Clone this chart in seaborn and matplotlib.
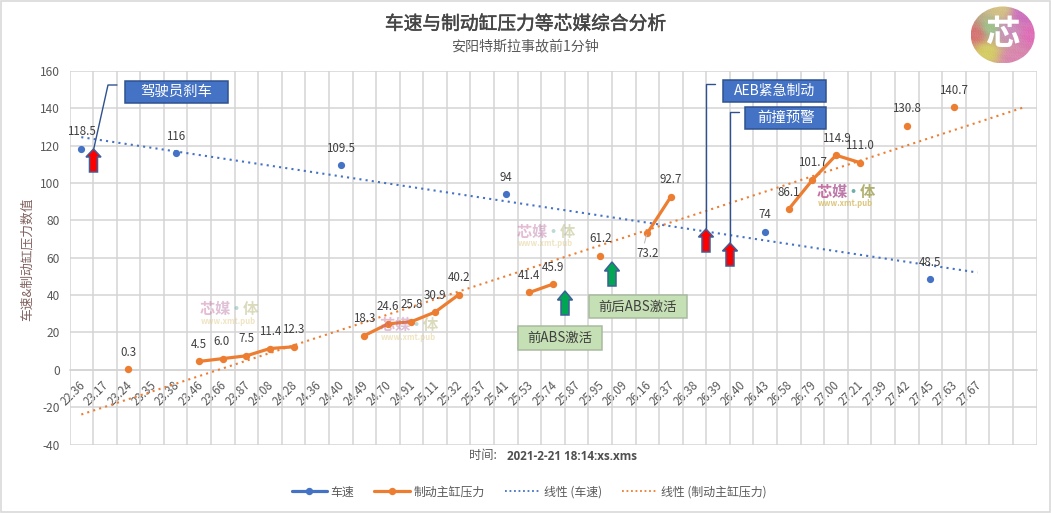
import numpy as np
import matplotlib
matplotlib.use("Agg")
import matplotlib.pyplot as plt
import matplotlib.patheffects as pe
from matplotlib.transforms import offset_copy
import seaborn as sns
from matplotlib.lines import Line2D
from matplotlib.patches import Rectangle, Polygon, Ellipse

time_labels = ["22.36","23.17","23.24","23.35","23.38","23.46","23.66","23.87","24.08","24.28",
               "24.36","24.40","24.49","24.70","24.91","25.11","25.32","25.37","25.41","25.53",
               "25.74","25.87","25.95","26.09","26.16","26.37","26.38","26.39","26.40","26.43",
               "26.58","26.79","27.00","27.21","27.39","27.42","27.45","27.63","27.67","",""]
speed_times = ["22.36","23.38","24.40","25.41","26.43","27.45"]
speed_values = [118.5,116,109.5,94,74,48.5]
speed_text = ["118.5","116","109.5","94","74","48.5"]
pressure_times = ["23.24","23.46","23.66","23.87","24.08","24.28","24.49","24.70","24.91","25.11","25.32",
                  "25.53","25.74","25.95","26.16","26.37","26.58","26.79","27.00","27.21","27.42","27.63"]
pressure_values = [0.3,4.5,6.0,7.5,11.4,12.3,18.3,24.6,25.8,30.9,40.2,41.4,45.9,61.2,73.2,92.7,
                   86.1,101.7,114.9,111.0,130.8,140.7]
pressure_text = ["0.3","4.5","6.0","7.5","11.4","12.3","18.3","24.6","25.8","30.9","40.2","41.4","45.9",
                 "61.2","73.2","92.7","86.1","101.7","114.9","111.0","130.8","140.7"]
BLUE, ORANGE = "#4472C4", "#ED7D31"
W, H = 1051, 513

sns.set_theme(style="white")
plt.rcParams["font.family"] = ["Noto Sans CJK SC", "DejaVu Sans"]
plt.rcParams["axes.unicode_minus"] = False

fig = plt.figure(figsize=(W/100, H/100), dpi=100, facecolor="white")
ax = fig.add_axes([69.5/W, 1-444.5/H, (1036.5-69.5)/W, (444.5-71)/H])
ax.spines["bottom"].set_position(("data", 0))

pos = {t: i for i, t in enumerate(time_labels) if t}
sx = np.array([pos[t] for t in speed_times], float)
px_ = np.array([pos[t] for t in pressure_times], float)
sy = np.array(speed_values)
py = np.array(pressure_values)

# linear trends
xt1 = np.arange(0, 39)
xt2 = np.arange(0, 41)
sns.lineplot(x=xt1, y=np.polyval(np.polyfit(sx, sy, 1), xt1), ax=ax, color=BLUE, lw=1.5,
             linestyle=(0, (1, 2)), zorder=3)
sns.lineplot(x=xt2, y=np.polyval(np.polyfit(px_, py, 1), xt2), ax=ax, color=ORANGE, lw=1.5,
             linestyle=(0, (1, 2)), zorder=3)

# series: consecutive categories are joined
sns.scatterplot(x=sx, y=sy, ax=ax, color=BLUE, s=27, linewidth=0, zorder=4)
splits = np.where(np.diff(px_) > 1)[0] + 1
for rx, ry in zip(np.split(px_, splits), np.split(py, splits)):
    sns.lineplot(x=rx, y=ry, ax=ax, color=ORANGE, lw=2.3, marker="o", markersize=5.3,
                 markeredgewidth=0, zorder=4)

ax.set_xlim(-0.5, 40.5)
ax.set_ylim(-40, 160)
ax.set_yticks(np.arange(-40, 161, 20))
ax.set_xticks(np.arange(41))
ax.set_xticklabels(time_labels, rotation=45, ha="right", va="center", rotation_mode="anchor",
                   fontsize=8.3, color="#595959")
ax.set_xticks(np.arange(-0.5, 41), minor=True)
ax.tick_params(axis="x", which="both", length=0, pad=9.5)
ax.tick_params(axis="y", length=0, pad=7, labelsize=8.6, labelcolor="#595959")
for lab in ax.get_xticklabels():
    lab.set_transform(offset_copy(lab.get_transform(), fig, x=2, y=0, units="dots"))
ax.grid(False)
ax.grid(True, axis="y", which="major", color="#D4D4D4", lw=1.1)
ax.grid(True, axis="x", which="minor", color="#D4D4D4", lw=1.1)
ax.set_axisbelow(True)
for s in ax.spines.values():
    s.set_color("#D4D4D4")
    s.set_linewidth(1.1)
ax.spines["top"].set_visible(False)
ax.spines["left"].set_visible(False)
ax.spines["right"].set_visible(False)
ax.set_xlabel("")
ax.set_ylabel("")

# data labels
pt = 0.72
for x, y, t in zip(sx, sy, speed_text):
    ax.annotate(t, (x, y), xytext=(0, 17*pt), textcoords="offset points", ha="center", va="center",
                fontsize=8.3, color="#404040", zorder=6)
for x, y, t in zip(px_, py, pressure_text):
    off = -20 if t == "73.2" else 17
    ax.annotate(t, (x, y), xytext=(-1*pt if t == "6.0" else 0, off*pt), textcoords="offset points",
                ha="center", va="center", fontsize=8.3, color="#404040", zorder=6)

# overlay in reference pixels
ov = fig.add_axes([0, 0, 1, 1], zorder=10)
ov.set_xlim(0, W); ov.set_ylim(H, 0); ov.axis("off"); ov.patch.set_alpha(0)
ov.add_patch(Rectangle((1, 1), W-2, H-2, fill=False, ec="#D9D9D9", lw=1.2))

ov.text(525.5, 24, "车速与制动缸压力等芯媒综合分析", ha="center", va="center", fontsize=13.5, color="#454545",
        path_effects=[pe.withStroke(linewidth=0.35, foreground="#454545")])
ov.text(525, 46, "安阳特斯拉事故前1分钟", ha="center", va="center", fontsize=10.1, color="#595959")
ov.text(27, 259, "车速&制动缸压力数值", rotation=90, ha="center", va="center", fontsize=9.2, color="#80625f")
ov.text(469, 456, "时间:", ha="left", va="center", fontsize=8.8, color="#595959")
ov.text(507, 456, "2021-2-21 18:14:xs.xms", ha="left", va="center", fontsize=8.4, color="#505050", fontweight="bold", family="Open Sans")

def arrow(cx, top, bot, color, hh=8):
    hw, sw = 7.5, 4
    ov.add_patch(Polygon([(cx, top), (cx+hw, top+hh), (cx+sw, top+hh), (cx+sw, bot), (cx-sw, bot),
                          (cx-sw, top+hh), (cx-hw, top+hh)], closed=True, fc=color, ec="#3F5F98", lw=1.1, zorder=5))

def box(x0, y0, x1, y1, text, fc, ec, tc, fs):
    ov.add_patch(Rectangle((x0, y0), x1-x0, y1-y0, fc=fc, ec=ec, lw=1.1, zorder=6))
    ov.text((x0+x1)/2, (y0+y1)/2, text, ha="center", va="center", fontsize=fs, color=tc, zorder=7)

LC = "#2F528F"
ov.plot([93.5, 108, 117], [150, 85, 85], color=LC, lw=1, zorder=4)
ov.plot([706, 706, 715], [232, 84, 84], color=LC, lw=1, zorder=4)
ov.plot([730, 730, 739], [247, 112, 112], color=LC, lw=1, zorder=4)
ov.plot([646.5, 644.5], [235, 243], color="#BFBFBF", lw=0.8, zorder=4)
arrow(93.5, 149, 172, "#FF0000")
arrow(706, 229, 252, "#FF0000")
arrow(730, 243, 266, "#FF0000")
arrow(565, 291, 315, "#00A651", 9)
arrow(612, 262, 286, "#00A651", 9)
box(125, 81, 228, 103, "驾驶员刹车", "#4472C4", "#2F528F", "white", 10.4)
box(723, 80, 826, 102, "AEB紧急制动", "#4472C4", "#2F528F", "white", 10)
box(745, 107, 826, 129, "前撞预警", "#4472C4", "#2F528F", "white", 10.4)
box(518, 326, 602, 350, "前ABS激活", "#C5E0B4", "#A9BBA0", "#404040", 9.6)
box(589, 295, 687, 318, "前后ABS激活", "#C5E0B4", "#A9BBA0", "#404040", 9.6)

# watermarks
def mark(x, y, a):
    ov.text(x, y, "芯", fontsize=11, fontweight="bold", color="#C0609A", alpha=a, ha="left", va="center", zorder=2)
    ov.text(x+15, y, "媒", fontsize=11, fontweight="bold", color="#B56AA0", alpha=a, ha="left", va="center", zorder=2)
    ov.text(x+36, y, "·", fontsize=11, fontweight="bold", color="#5FA89A", alpha=a, ha="center", va="center", zorder=2)
    ov.text(x+43, y, "体", fontsize=11, fontweight="bold", color="#A8A860", alpha=a, ha="left", va="center", zorder=2)
    ov.text(x+28, y+12, "www.xmt.pub", fontsize=5.6, fontweight="bold", color="#D8C070", alpha=a, ha="center", va="center", zorder=2)
mark(200, 309, 0.42)
mark(380, 325, 0.42)
mark(517, 232, 0.42)
mark(817, 192, 0.9)

# logo: soft colour patches under white diagonal hatching
logo_anchor_xy = [(0.08,0.5),(0.45,0.08),(0.8,0.15),(0.95,0.5),(0.65,0.92),(0.25,0.8),(0.3,0.4),(0.55,0.45)]
logo_anchor_rgb = [(0.82,0.30,0.32),(0.80,0.72,0.40),(0.76,0.30,0.70),(0.85,0.30,0.66),
                   (0.82,0.42,0.62),(0.80,0.78,0.25),(0.50,0.75,0.45),(0.75,0.45,0.70)]
yy, xx = np.mgrid[0:1:120j, 0:1:135j]
wts = np.stack([1/(((xx-a)**2+(yy-b)**2)**1.5+1e-3) for a, b in logo_anchor_xy], axis=-1)
wts /= wts.sum(axis=-1, keepdims=True)
base = wts @ np.array(logo_anchor_rgb)
stripes = (0.5+0.5*np.sign(np.sin((xx*135*0.62 + yy*120*1.05)*2.0)))[..., None]*0.38
img = np.clip(base*(1-stripes)+stripes, 0, 1)
im = ov.imshow(img, extent=(970.5, 1035, 63.5, 6), aspect="auto", zorder=3, interpolation="bilinear")
clip = Ellipse((1002.7, 35), 64, 57, transform=ov.transData, fc="none", ec="none")
ov.add_patch(clip)
im.set_clip_path(clip)
ov.set_xlim(0, W); ov.set_ylim(H, 0)
ov.text(1002.7, 34, "芯", fontsize=25, fontweight="bold", color="white", ha="center", va="center", zorder=4)

# legend
handles = [Line2D([], [], color=BLUE, lw=2.3, marker="o", ms=5.3, mew=0),
           Line2D([], [], color=ORANGE, lw=2.3, marker="o", ms=5.3, mew=0),
           Line2D([], [], color=BLUE, lw=1.3, linestyle=(0, (1, 1.5))),
           Line2D([], [], color=ORANGE, lw=1.3, linestyle=(0, (1, 1.5)))]
fig.legend(handles, ["车速", "制动主缸压力", "线性 (车速)", "线性 (制动主缸压力)"], loc="center",
           bbox_to_anchor=(529/W, 1-492/H), ncol=4, frameon=False, fontsize=8.6, labelcolor="#595959",
           handlelength=3, handletextpad=0.25, columnspacing=1.7, borderpad=0)

fig.savefig("out.png", dpi=100)
